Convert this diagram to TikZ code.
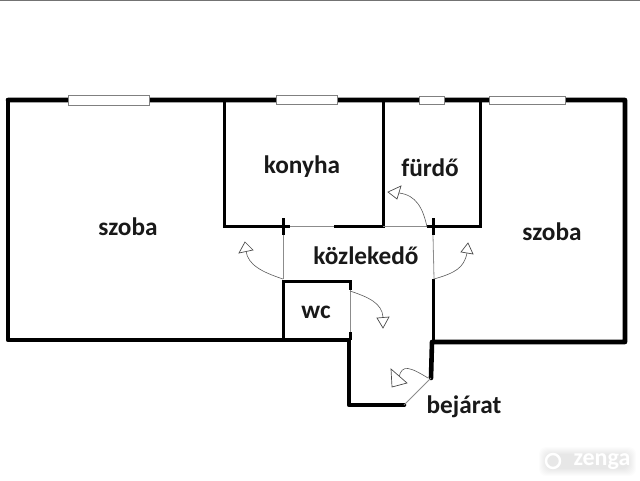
\documentclass[tikz,border=0pt]{standalone}
\usepackage{fontspec}
\setmainfont{Carlito}
\begin{document}
\begin{tikzpicture}[x=1pt,y=-1pt,
  wall/.style={line width=4.6pt,black,line cap=round,line join=round},
  inner/.style={line width=3pt,black,line cap=butt},
  thin/.style={line width=0.8pt,black!45},
  swing/.style={line width=0.6pt,black!65},
  head/.style={line width=0.7pt,black!70,fill=white},
  win/.style={draw=black!50,fill=white,line width=0.9pt},
  lbl/.style={font=\bfseries\fontsize{25.3}{25.3}\selectfont,text=black!90,inner sep=0pt},
  wmtext/.style={font=\bfseries\fontsize{24}{24}\selectfont,text=white,inner sep=0pt},
  halo/.style={fill=black,opacity=0.012,rounded corners=7pt}]
\useasboundingbox (0,0) rectangle (640,480);
\fill[black!55] (0,0) rectangle (640,1);
% outer walls
\draw[wall] (68,100) -- (8,100) -- (8,340) -- (349,340) -- (349,405) -- (404,405);
\draw[wall] (431,378) -- (432,342) -- (625,342) -- (625,100) -- (8,100);
% inner walls
\draw[inner] (224,100) -- (224,226) -- (290,226);
\draw[inner] (334,226) -- (383,226) -- (383,100);
\draw[inner] (427,226) -- (480,226) -- (480,100);
\draw[inner] (283,218) -- (283,235);
\draw[inner] (433,218) -- (433,235);
\draw[inner] (283,340) -- (283,281.5) -- (350,281.5) -- (350,290);
\draw[inner] (350,332) -- (350,340);
\draw[inner] (433,279) -- (433,342);
% thin door lines
\draw[thin] (290,226) -- (334,226);
\draw[thin] (383,226) -- (427,226);
\draw[thin] (283,235) -- (283,279);
\draw[thin] (433,235) -- (434,279);
\draw[thin] (350,290) -- (350,332);
\draw[thin] (404,405) -- (431,378);
% windows
\draw[win] (68,95) rectangle (149,105);
\draw[win] (276,95.5) rectangle (337,104.5);
\draw[win] (419,96) rectangle (444,104.5);
\draw[win] (489,96.5) rectangle (565,104.5);
% door swings
\draw[swing] (283,279) .. controls (262,272) and (248,265) .. (246,251);
\draw[head] (245,242) -- (239,253) -- (253,250) -- cycle;
\draw[swing] (434,279) .. controls (455,273) and (464,268) .. (467,253);
\draw[head] (468,243) -- (461,252) -- (473,254) -- cycle;
\draw[swing] (350,291) .. controls (368,297) and (382,303) .. (383,317);
\draw[head] (377,318) -- (389,317) -- (383,328) -- cycle;
\draw[swing] (428,378) .. controls (410,367) and (402,364) .. (399,377);
\draw[head] (391,369) -- (407,383) -- (392,387) -- cycle;
\draw[swing] (427,227) .. controls (423,208) and (416,195) .. (399,193);
\draw[head] (388,192) -- (401,186) -- (397,199) -- cycle;
% labels
\node[lbl] (szobaL) at (128,227) {szoba};
\node[lbl] (konyha) at (302,166.5) {konyha};
\node[lbl] (furdo) at (430,168) {fürdő};
\node[lbl] (szobaR) at (552,232) {szoba};
\node[lbl] (kozl) at (366,256) {közlekedő};
\node[lbl] (wc) at (316,312) {wc};
\node[lbl] (bej) at (464,407) {bejárat};
% watermark
\foreach \m in {0,1,2,3,4,5,6,7}{\fill[halo] (539+\m,447+\m) rectangle (636-\m,476-\m);}
\draw[white,line width=2.4pt] (553,461) circle (7pt);
\node[wmtext] (zenga) at (602,462) {zenga};
\end{tikzpicture}
\end{document}
